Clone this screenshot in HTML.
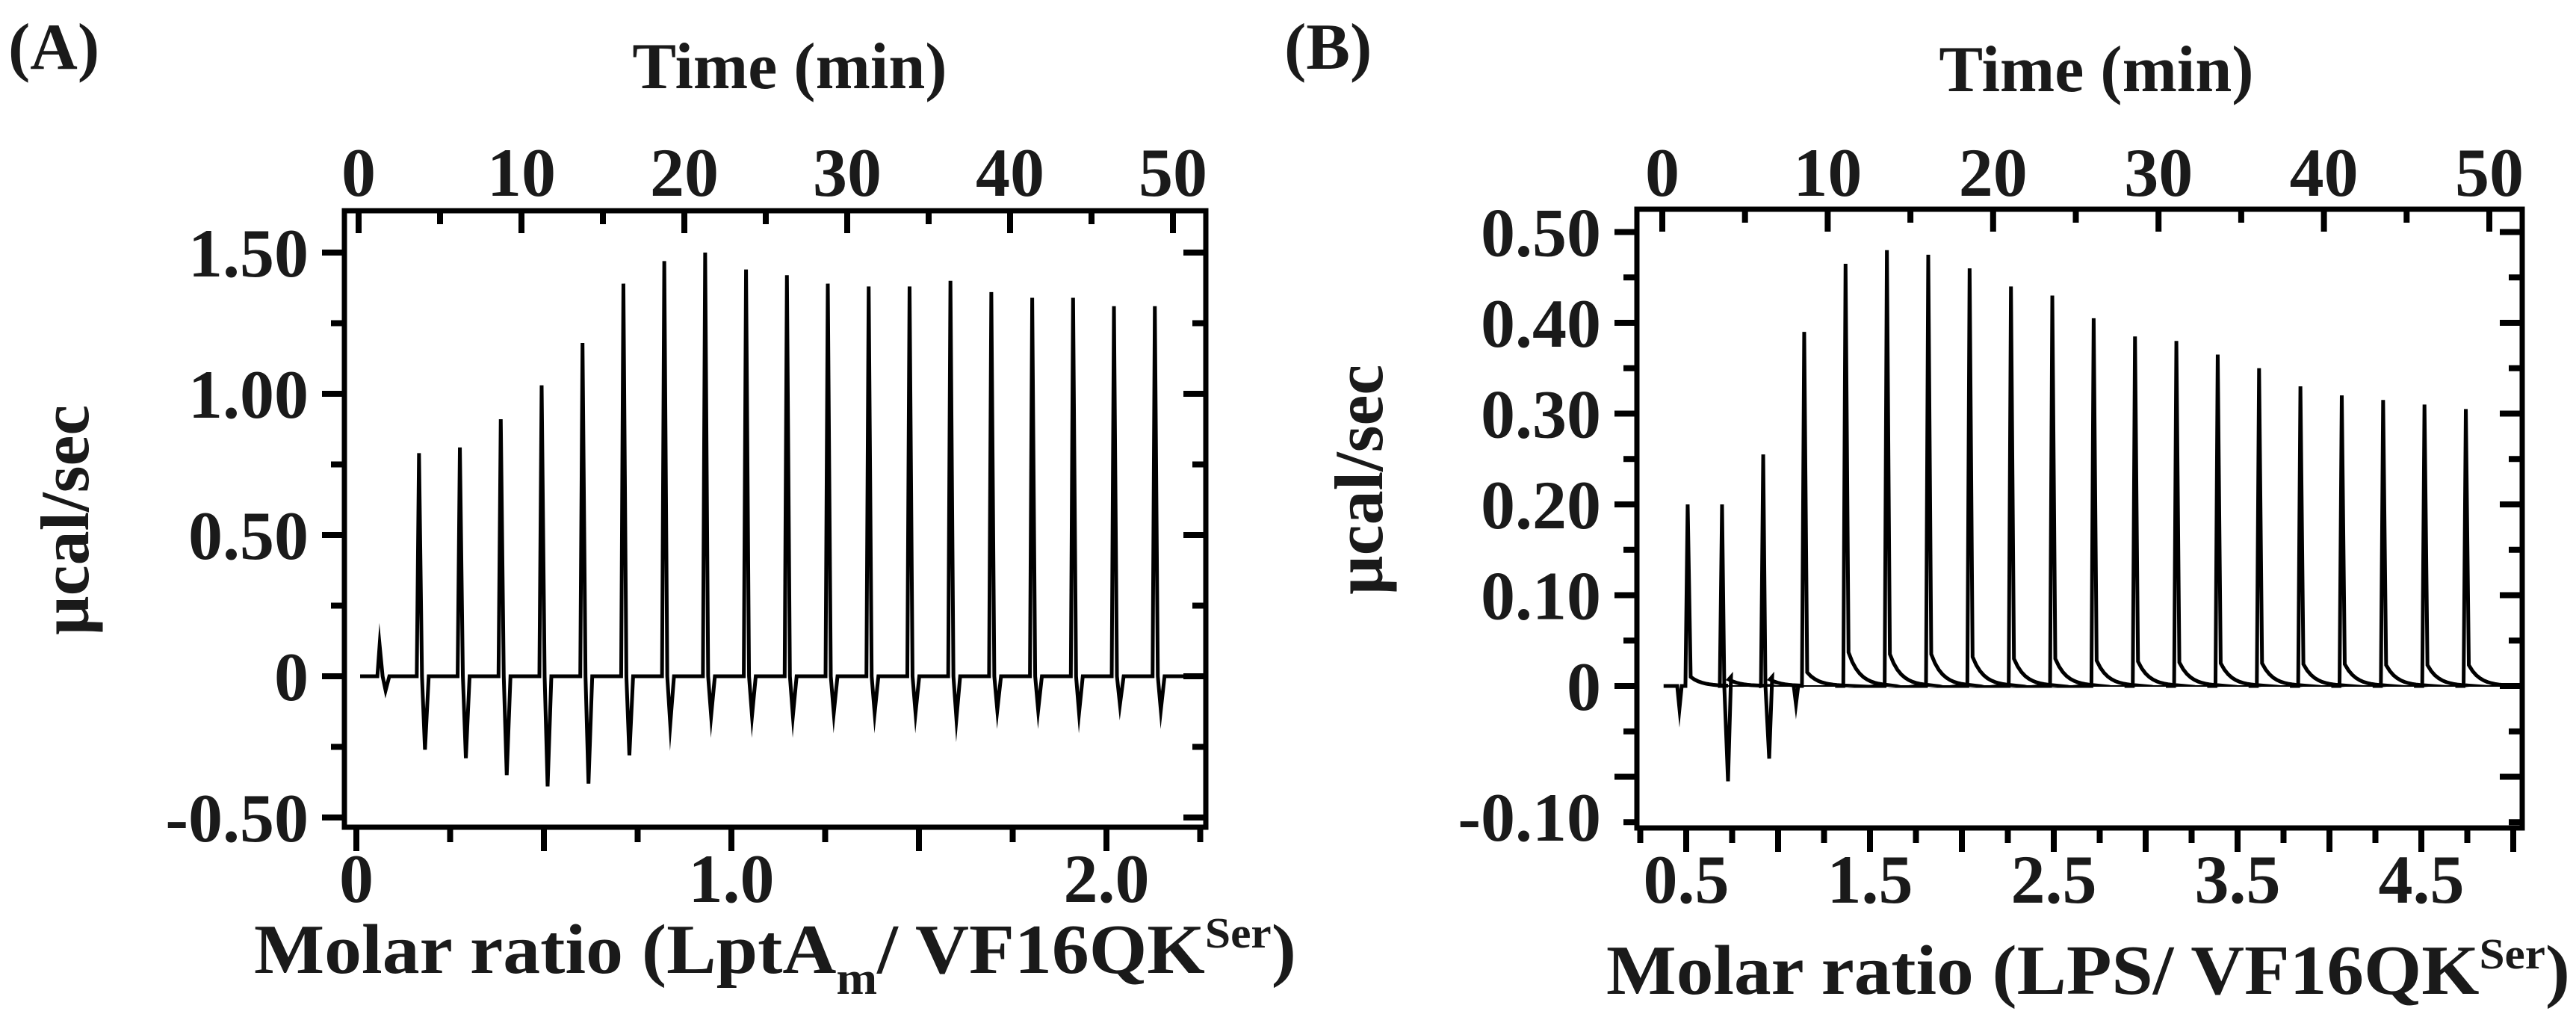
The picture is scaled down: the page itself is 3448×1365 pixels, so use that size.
<!DOCTYPE html>
<html><head><meta charset="utf-8"><style>
html,body{margin:0;padding:0;background:#fff;}
svg{display:block;}
text{font-family:"Liberation Serif",serif;font-weight:bold;fill:#1a1a1a;}
</style></head><body>
<svg id="chart" width="3448" height="1365" viewBox="0 0 3448 1365" xmlns="http://www.w3.org/2000/svg">
<g id="pa"></g>
<g id="pb"></g>
</svg>
<script>
// Panel A data
const aRatioStart = 0.167, aRatioStep = 0.109;
const aPeaks = [0.79,0.81,0.91,1.03,1.18,1.39,1.47,1.50,1.44,1.42,1.39,1.38,1.38,1.40,1.36,1.34,1.34,1.31,1.31];
const aDips = [-0.26,-0.29,-0.35,-0.39,-0.38,-0.28,-0.17,-0.14,-0.14,-0.14,-0.13,-0.13,-0.13,-0.15,-0.12,-0.12,-0.13,-0.10,-0.12];
const aFirstInj = [0.062, 0.11, -0.05];
const aYTicks = [1.5,1.0,0.5,0,-0.5];
const aYLabels = ["1.50","1.00","0.50","0","-0.50"];
const aXTicks = [0,1,2];
const aXLabels = ["0","1.0","2.0"];
const timeTicks = [0,10,20,30,40,50];
// Panel B data
const bRatios = [0.508,0.695,0.919,1.142,1.367,1.592,1.817,2.042,2.267,2.492,2.717,2.942,3.167,3.392,3.617,3.842,4.067,4.292,4.517,4.742];
const bPeaks = [0.20,0.20,0.255,0.39,0.465,0.48,0.475,0.46,0.44,0.43,0.405,0.385,0.38,0.365,0.35,0.33,0.32,0.315,0.31,0.305];
const bDips = [-0.025,-0.105,-0.08,-0.02,0,0,0,0,0,0,0,0,0,0,0,0,0,0,0,0];
const bTails = [0.01,0.01,0.01,0.015,0.037,0.035,0.035,0.032,0.03,0.03,0.028,0.027,0.026,0.025,0.025,0.024,0.024,0.023,0.023,0.023];
const bYTicks = [0.5,0.4,0.3,0.2,0.1,0];
const bYLabels = ["0.50","0.40","0.30","0.20","0.10","0"];
const bXTicks = [0.5,1.5,2.5,3.5,4.5];
const bXLabels = ["0.5","1.5","2.5","3.5","4.5"];

const NS="http://www.w3.org/2000/svg";
function mk(parent,tag,attrs,txt){const e=document.createElementNS(NS,tag);for(const k in attrs)e.setAttribute(k,attrs[k]);if(txt!==undefined)e.textContent=txt;parent.appendChild(e);return e;}

function panel(g,cfg){
  const {L,R,T,B,xr,yv,xt}=cfg;
  // frame
  const fr=mk(g,'rect',{x:L,y:T,width:R-L,height:B-T,fill:'none',stroke:'#000','stroke-width':7});
  
  
  // y ticks (outward left, inward right)
  for(let v=cfg.yMin;v<=cfg.yMax+1e-9;v+=cfg.yMinor){
    const y=yv(v); if(y<T-1||y>B+1) continue;
    const major=Math.abs(Math.round(v/cfg.yMajor)*cfg.yMajor-v)<1e-6;
    const len=major?30:18;
    const t=mk(g,'line',{x1:L-len,x2:L,y1:y,y2:y,stroke:'#000','stroke-width':8});
    
    
    const t2=mk(g,'line',{x1:R,x2:R-len,y1:y,y2:y,stroke:'#000','stroke-width':8});
    
    
  }
  cfg.yTicks.forEach((v,i)=>{
    const tx=mk(g,'text',{x:L-48,y:yv(v)+32,'font-size':92,'text-anchor':'end'},cfg.yLabels[i]);
    
    
  });
  // bottom ticks (outward)
  for(let r=cfg.xMin;r<=cfg.xMax+1e-9;r+=0.25){
    const x=xr(r); if(x<L-1||x>R+1) continue;
    const major=Math.abs(Math.round(r*2)/2-r)<1e-6;
    const t=mk(g,'line',{x1:x,x2:x,y1:B,y2:B+(major?32:20),stroke:'#000','stroke-width':8});
    
    
  }
  cfg.xTicks.forEach((r,i)=>{
    const tx=mk(g,'text',{x:xr(r),y:B+100,'font-size':92,'text-anchor':'middle'},cfg.xLabels[i]);
    
    
  });
  // top time ticks (inward)
  for(let t=0;t<=50;t+=5){
    const x=xt(t);
    const major=t%10===0;
    const l=mk(g,'line',{x1:x,x2:x,y1:T,y2:T+(major?30:18),stroke:'#000','stroke-width':8});
    
    
  }
  timeTicks.forEach(t=>{
    const tx=mk(g,'text',{x:xt(t),y:cfg.topLabelY,'font-size':92,'text-anchor':'middle'},String(t));
    
    
  });
}

// ---- Panel A ----
const ga=document.getElementById('pa');
const aX=r=>477+r*502, aY=v=>905-v*378, aT=t=>480+t*21.8;
panel(ga,{L:461,R:1614,T:282,B:1107,xr:aX,yv:aY,xt:aT,yMin:-0.5,yMax:1.5,yMinor:0.25,yMajor:0.5,yTicks:aYTicks,yLabels:aYLabels,xMin:0,xMax:2.25,xTicks:aXTicks,xLabels:aXLabels,topLabelY:262});
{
  let d=`M${aX(0.01)},${aY(0)}`;
  const inj=[[aFirstInj[0],aFirstInj[1],aFirstInj[2]]];
  aPeaks.forEach((p,i)=>inj.push([aRatioStart+aRatioStep*i,p,aDips[i]]));
  inj.forEach(([r,p,dp])=>{
    const x=aX(r);
    d+=` L${x-3},${aY(0)} L${x},${aY(p)} L${x+4},${aY(0)} L${x+8},${aY(dp)} L${x+13},${aY(0)}`;
  });
  d+=` L${aX(2.255)},${aY(0)}`;
  const p=mk(ga,'path',{d,fill:'none',stroke:'#000','stroke-width':5,'stroke-linejoin':'miter','stroke-miterlimit':20});
  
  
}
{
  let t=mk(ga,'text',{x:11,y:92,'font-size':88},'(A)');
  
  t=mk(ga,'text',{x:1057,y:118,'font-size':88,'text-anchor':'middle'},'Time (min)');
  
  t=mk(ga,'text',{x:0,y:0,'font-size':92,'text-anchor':'middle',transform:'translate(118,696) rotate(-90)'},'µcal/sec');
  
  t=mk(ga,'text',{x:340,y:1302,'font-size':94,textLength:1395,lengthAdjust:'spacingAndGlyphs'});
  
  t.innerHTML='Molar ratio (LptA<tspan dy="28" font-size="62">m</tspan><tspan dy="-28">/ VF16QK</tspan><tspan dy="-34" font-size="58">Ser</tspan><tspan dy="34">)</tspan>';
}

// ---- Panel B ----
const gb=document.getElementById('pb');
const bX=r=>2257+(r-0.5)*246, bY=v=>918-v*1215, bT=t=>2225+t*22.14;
panel(gb,{L:2191,R:3376,T:280,B:1108,xr:bX,yv:bY,xt:bT,yMin:-0.15,yMax:0.5,yMinor:0.05,yMajor:0.1,yTicks:bYTicks,yLabels:bYLabels,xMin:0.25,xMax:5.0,xTicks:bXTicks,xLabels:bXLabels,topLabelY:262});
{
  let t=mk(gb,'text',{x:2143,y:1125,'font-size':92,'text-anchor':'end'},'-0.10');
  
  const z=mk(gb,'line',{x1:bX(0.7),x2:3372,y1:bY(0),y2:bY(0),stroke:'#000','stroke-width':2});
  
  let d=`M${bX(0.377)},${bY(0)}`;
  bRatios.forEach((r,i)=>{
    const x=bX(r);
    if(bDips[i]<-0.05){
      d+=` L${x-3},${bY(0)} L${x},${bY(bPeaks[i])} L${x+3},${bY(0)} L${x+8},${bY(bDips[i])} L${x+12},${bY(bTails[i])}`;
    }else{
      d+=` L${x-14},${bY(0)} L${x-11},${bY(bDips[i])} L${x-8},${bY(0)} L${x-3},${bY(0)} L${x},${bY(bPeaks[i])} L${x+4},${bY(bTails[i])}`;
    }
    for(let k=1;k<=10;k++){d+=` L${x+4+k*5},${bY(bTails[i]*Math.exp(-k/3))}`;}
  });
  d+=` L${3372},${bY(0)}`;
  const p=mk(gb,'path',{d,fill:'none',stroke:'#000','stroke-width':5,'stroke-linejoin':'miter','stroke-miterlimit':20});
  
  
  t=mk(gb,'text',{x:1719,y:92,'font-size':88},'(B)');
  
  t=mk(gb,'text',{x:2806,y:122,'font-size':88,'text-anchor':'middle'},'Time (min)');
  
  t=mk(gb,'text',{x:0,y:0,'font-size':92,'text-anchor':'middle',transform:'translate(1850,642) rotate(-90)'},'µcal/sec');
  
  t=mk(gb,'text',{x:2150,y:1330,'font-size':94,textLength:1290,lengthAdjust:'spacingAndGlyphs'});
  
  t.innerHTML='Molar ratio (LPS/ VF16QK<tspan dy="-34" font-size="58">Ser</tspan><tspan dy="34">)</tspan>';
}
</script>
</body></html>
